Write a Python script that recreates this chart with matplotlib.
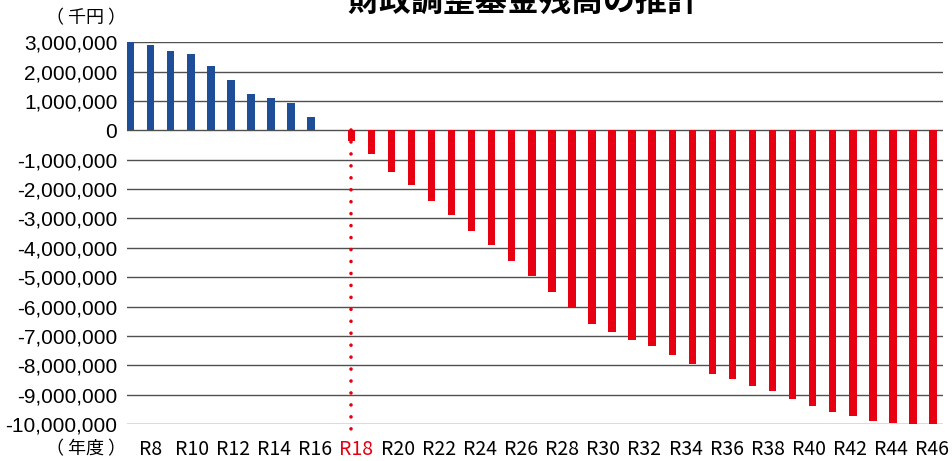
import numpy as np
import matplotlib.pyplot as plt
from matplotlib.ticker import FuncFormatter

# fiscal years R7..R47
years = ["R%d" % y for y in range(7, 48)]
# fund balance (thousand yen)
balance = [
    3000000, 2900000, 2710000, 2590000, 2190000, 1700000, 1240000, 1110000, 940000, 450000,
    15000,
    -370000, -795000, -1420000, -1860000, -2410000, -2880000, -3410000, -3920000, -4440000,
    -4950000, -5520000, -6040000, -6590000, -6880000, -7140000, -7360000, -7640000, -7950000,
    -8300000, -8480000, -8710000, -8860000, -9160000, -9390000, -9580000, -9730000, -9890000,
    -9950000, -10020000, -10020000,
]
title = "財政調整基金残高の推計"
unit_label = "（ 千円 ）"
year_label = "（ 年度 ）"
marker_year = "R18"

BLUE = "#1f4e98"
RED = "#e60012"
JP = ["Noto Sans CJK JP", "DejaVu Sans"]

fig = plt.figure(figsize=(9.52, 4.61), dpi=100)
ax = fig.add_axes([0.1334, 0.0803, 0.8568, 0.8279])

x = np.arange(len(years))
colors = [BLUE if v >= 0 else RED for v in balance]
ax.bar(x, balance, width=0.37, color=colors, zorder=3)

# dotted marker line at the first deficit year
mx = years.index(marker_year)
ax.plot([mx, mx], [0, -10.28e6], color=RED, lw=2.6, ls=(0, (0.01, 3.3)),
        dash_capstyle="round", clip_on=False, zorder=2)

ax.set_xlim(-0.18, 40.48)
ax.set_ylim(-10e6, 3e6)
ax.set_yticks(np.arange(-10e6, 3e6 + 1, 1e6))
ax.yaxis.set_major_formatter(FuncFormatter(lambda v, p: "{:,.0f}".format(v)))
ax.yaxis.grid(True, color="#505050", lw=1.0, zorder=0)
ax.set_axisbelow(True)
for s in ax.spines.values():
    s.set_visible(False)
ax.tick_params(axis="y", length=0, pad=7, labelsize=15)
for t in ax.get_yticklabels():
    t.set_fontfamily("Liberation Sans")

# label row: every second year, slightly wider spaced than the bars (text box in the original)
lab_idx = np.arange(1, len(years), 2)
lab_pos = 1.01 + (lab_idx - 1) * 1.025
ax.set_xticks(lab_pos)
ax.set_xticklabels([years[i] for i in lab_idx], family=JP, fontsize=14)
ax.tick_params(axis="x", length=0, pad=11)
for t in ax.get_xticklabels():
    if t.get_text() == marker_year:
        t.set_color(RED)

fig.text(0.55, 0.9957, title, ha="center", va="center", fontsize=23,
         fontweight="bold", family=JP)
fig.text(86 / 952, 1 - 18 / 461, unit_label, ha="center", va="center", fontsize=13, family=JP)
fig.text(86 / 952, 1 - 449 / 461, year_label, ha="center", va="center", fontsize=13, family=JP)

fig.savefig("out.png", dpi=100)
